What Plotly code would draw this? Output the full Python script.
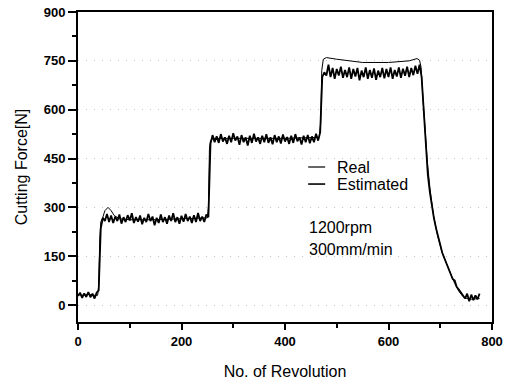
import plotly.graph_objects as go

# Real (smooth measured/reference) force: revolution -> force [N]
real_rev = [0, 10, 20, 30, 38, 40, 42, 44, 48, 52, 58, 64, 70, 80, 100, 150, 200, 250,
            252, 254, 256, 262, 300, 400, 466, 469, 471, 474, 480, 500, 550, 600, 640,
            655, 660, 663, 666, 670, 675, 680, 687, 695, 703, 712, 720, 728, 736, 744,
            752, 760, 776]
real_force = [32, 30, 33, 30, 30, 60, 200, 255, 270, 290, 300, 290, 275, 265, 262, 262,
              265, 268, 300, 480, 505, 512, 512, 512, 515, 560, 720, 755, 760, 755, 745,
              745, 750, 757, 752, 730, 650, 545, 440, 360, 275, 212, 165, 128, 95, 66,
              42, 26, 20, 18, 20]

# Estimated force sampled every 4 revolutions from 0
est_step = 4
est_force = [
    28, 38, 22, 36, 25, 40, 24, 35, 20, 38,
    45, 235, 268, 258, 280, 255, 275, 252, 272, 258,
    278, 250, 270, 255, 276, 260, 282, 252, 270, 256,
    275, 248, 268, 255, 280, 258, 272, 245, 268, 252,
    278, 255, 270, 250, 275, 258, 282, 255, 270, 250,
    274, 256, 280, 258, 272, 252, 276, 255, 283, 258,
    272, 255, 278, 270, 495, 522, 500, 518, 498, 525,
    502, 515, 495, 520, 500, 528, 505, 518, 492, 522,
    500, 515, 490, 520, 498, 526, 502, 515, 495, 520,
    500, 525, 498, 515, 494, 522, 500, 518, 496, 524,
    502, 516, 495, 520, 498, 525, 503, 515, 493, 520,
    500, 522, 497, 518, 500, 526, 505, 530, 700, 715,
    705, 738, 700, 728, 695, 725, 705, 732, 698, 722,
    700, 730, 695, 725, 702, 728, 690, 720, 700, 730,
    695, 722, 698, 727, 692, 720, 700, 728, 696, 725,
    700, 730, 695, 722, 702, 730, 698, 726, 704, 732,
    700, 728, 706, 735, 710, 738, 700, 590, 480, 400,
    345, 300, 265, 235, 205, 185, 160, 145, 125, 110,
    100, 80, 75, 55, 48, 38, 30, 20, 35, 12,
    32, 15, 30, 18, 35,
]
est_rev = [i * est_step for i in range(len(est_force))]

x_ticks = [0, 200, 400, 600, 800]
y_ticks = [0, 150, 300, 450, 600, 750, 900]

fig = go.Figure()
fig.add_trace(go.Scatter(x=est_rev, y=est_force, mode="lines", name="Estimated",
                         line=dict(color="black", width=1.8)))
fig.add_trace(go.Scatter(x=real_rev, y=real_force, mode="lines", name="Real",
                         line=dict(color="black", width=1)))

FONT = "Liberation Sans, Arial, sans-serif"
tickfont = dict(family=FONT, size=13, color="black", weight="bold")

fig.update_layout(
    width=510, height=381,
    margin=dict(l=78, r=18, t=12, b=59, autoexpand=False),
    paper_bgcolor="white", plot_bgcolor="white",
    showlegend=False,
    font=dict(family=FONT, color="black"),
    xaxis=dict(range=[0, 800], tickvals=x_ticks, ticks="outside", ticklen=6,
               tickwidth=1.5, tickcolor="black", showline=True, linecolor="black",
               linewidth=2, mirror=True, showgrid=False, zeroline=False,
               tickfont=tickfont, automargin=False,
               minor=dict(dtick=100, tick0=0, ticks="outside", ticklen=4,
                          tickcolor="black", tickwidth=1.5, showgrid=False),
               title=dict(text="No. of Revolution",
                          font=dict(family=FONT, size=16, color="black"),
                          standoff=18)),
    yaxis=dict(range=[-52, 900], tickvals=y_ticks, ticks="outside", ticklen=8,
               tickwidth=1.5, tickcolor="black", showline=True, linecolor="black",
               linewidth=2, mirror=True, showgrid=True, gridcolor="#c4c4c4",
               griddash="1px,7px", gridwidth=1, zeroline=False, tickfont=tickfont,
               automargin=False,
               minor=dict(dtick=75, tick0=0, ticks="outside", ticklen=4,
                          tickcolor="black", tickwidth=1.5, showgrid=False),
               title=dict(text="Cutting Force[N]",
                          font=dict(family=FONT, size=16, color="black"),
                          standoff=12)),
)

# Legend drawn as short line samples with labels
legend_items = [("Real", 0.500), ("Estimated", 0.445)]
for label, yp in legend_items:
    fig.add_shape(type="line", xref="paper", yref="paper", x0=0.556, x1=0.597,
                  y0=yp, y1=yp, line=dict(color="black", width=1.2 if label == "Real" else 1.6))
    fig.add_annotation(xref="paper", yref="paper", x=0.62, y=yp, text=label,
                       showarrow=False, xanchor="left", yanchor="middle",
                       font=dict(family=FONT, size=16, color="black"))

notes = [("1200rpm", 0.305), ("300mm/min", 0.233)]
for txt, yp in notes:
    fig.add_annotation(xref="paper", yref="paper", x=0.554, y=yp, text=txt,
                       showarrow=False, xanchor="left", yanchor="middle",
                       font=dict(family=FONT, size=16, color="black"))

fig.write_html("out.html")
